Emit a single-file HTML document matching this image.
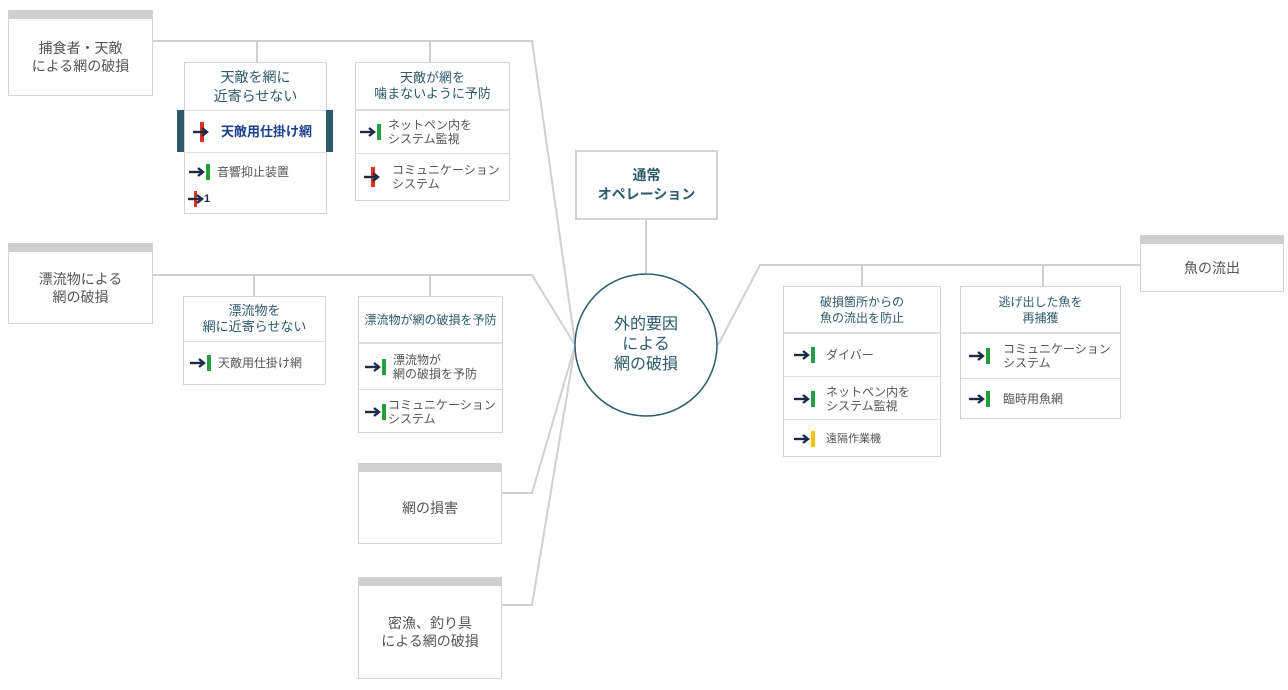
<!DOCTYPE html>
<html><head><meta charset="utf-8"><style>
body{margin:0;width:1288px;height:690px;background:#fff;position:relative;overflow:hidden;font-family:"Liberation Sans","Noto Sans CJK JP",sans-serif;}
.b{position:absolute;box-sizing:border-box;border:1px solid #d4d4d4;background:#fff;}
.g{border-top:9px solid #d0d0d0;display:flex;align-items:center;justify-content:center;text-align:center;color:#555;font-size:14px;line-height:18px;}
.h{position:absolute;left:0;right:0;top:0;display:flex;align-items:center;justify-content:center;text-align:center;color:#2d5a6b;font-size:13px;line-height:16px;border-bottom:2px solid #ddd;}
.r{position:absolute;left:0;right:0;display:flex;align-items:center;color:#555;font-size:12px;line-height:14px;border-top:1px solid #ddd;}
.ic{display:inline-block;position:relative;width:22px;height:16px;margin:0 6px 0 8px;flex:none;}
.ic svg{position:absolute;left:0;top:3px;}
.ic .gr{position:absolute;left:17px;top:0;width:4px;height:16px;background:#22a040;}
.ic .ye{position:absolute;left:17px;top:0;width:4px;height:16px;background:#f3c600;}
.ic .rd{position:absolute;left:7px;top:-2px;width:4px;height:20px;background:#e0301e;}
.c{position:absolute;box-sizing:border-box;}
</style></head><body>
<svg width="0" height="0" style="position:absolute"><defs><g id="ar"><line x1="0" y1="5" x2="13" y2="5" stroke="#1f2a44" stroke-width="2.4"/><polyline points="9,1 14,5 9,9" fill="none" stroke="#1f2a44" stroke-width="2.4"/></g></defs></svg>
<svg width="1288" height="690" style="position:absolute;left:0;top:0" fill="none" stroke="#d0d0d0" stroke-width="2">
<polyline points="152,41 532,41 575,343"/>
<line x1="257" y1="41" x2="257" y2="62"/><line x1="430" y1="41" x2="430" y2="62"/>
<polyline points="152,275 532,275 575,345"/>
<line x1="254" y1="275" x2="254" y2="296"/><line x1="430" y1="275" x2="430" y2="296"/>
<polyline points="502,493 532,493 575,346"/>
<polyline points="502,605 532,605 575,347"/>
<line x1="646" y1="219" x2="646" y2="273"/>
<polyline points="718,345 760,265 1140,265"/>
<line x1="862" y1="265" x2="862" y2="286"/><line x1="1043" y1="265" x2="1043" y2="286"/>
<circle cx="646" cy="345" r="71" fill="#fff" stroke="#2d5a6b" stroke-width="1.5"/>
</svg>

<div class="b g" style="left:8px;top:10px;width:145px;height:86px;">捕食者・天敵<br>による網の破損</div>
<div class="b g" style="left:8px;top:243px;width:145px;height:81px;">漂流物による<br>網の破損</div>
<div class="b g" style="left:358px;top:463px;width:144px;height:81px;">網の損害</div>
<div class="b g" style="left:358px;top:577px;width:144px;height:102px;">密漁、釣り具<br>による網の破損</div>
<div class="b g" style="left:1140px;top:235px;width:144px;height:57px;">魚の流出</div>

<div class="b" style="left:575px;top:150px;width:143px;height:70px;border:2px solid #d4d4d4;display:flex;align-items:center;justify-content:center;text-align:center;color:#2d5a6b;font-weight:bold;font-size:14px;line-height:19px;">通常<br>オペレーション</div>
<div class="c" style="left:575px;top:274px;width:142px;height:142px;display:flex;align-items:center;justify-content:center;text-align:center;color:#2d5a6b;font-size:16px;line-height:20px;">外的要因<br>による<br>網の破損</div>

<!-- box 1 -->
<div class="b" style="left:184px;top:62px;width:143px;height:152px;">
<div class="h" style="height:47px;font-size:14px;line-height:19px;">天敵を網に<br>近寄らせない</div>
<div class="r" style="top:48px;height:41px;border-top:none;background:#fff;color:#1a3f8f;font-weight:bold;font-size:13px;"><span class="ic"><span class="rd"></span><svg width="16" height="10"><use href="#ar"/></svg></span>天敵用仕掛け網</div>
<div class="r" style="top:89px;height:38px;"><span class="ic" style="margin-left:4px"><svg width="16" height="10"><use href="#ar"/></svg><span class="gr"></span></span>音響抑止装置</div>
<div class="r" style="top:124px;height:24px;border:none;font-size:11px;color:#1f2a44;font-weight:bold;"><span class="ic" style="margin:0 -6px 0 3px"><span class="rd" style="left:6px;width:3px;top:0;height:16px"></span><svg width="16" height="10"><use href="#ar"/></svg></span>1</div>
</div>
<div class="c" style="left:177px;top:110px;width:7px;height:42px;background:#2d5a6b;"></div>
<div class="c" style="left:326px;top:110px;width:7px;height:42px;background:#2d5a6b;"></div>

<!-- box 2 -->
<div class="b" style="left:355px;top:62px;width:155px;height:139px;">
<div class="h" style="height:46px;">天敵が網を<br>噛まないように予防</div>
<div class="r" style="top:48px;height:42px;border-top:none;"><span class="ic" style="margin-left:4px"><svg width="16" height="10"><use href="#ar"/></svg><span class="gr"></span></span>ネットペン内を<br>システム監視</div>
<div class="r" style="top:90px;height:46px;"><span class="ic"><span class="rd"></span><svg width="16" height="10"><use href="#ar"/></svg></span>コミュニケーション<br>システム</div>
</div>

<!-- box 3 -->
<div class="b" style="left:183px;top:296px;width:143px;height:89px;">
<div class="h" style="height:44px;border-bottom-width:1px;">漂流物を<br>網に近寄らせない</div>
<div class="r" style="top:45px;height:42px;border-top:none;"><span class="ic" style="margin-left:6px"><svg width="16" height="10"><use href="#ar"/></svg><span class="gr"></span></span>天敵用仕掛け網</div>
</div>

<!-- box 4 -->
<div class="b" style="left:358px;top:296px;width:145px;height:137px;">
<div class="h" style="height:45px;font-size:12px;">漂流物が網の破損を予防</div>
<div class="r" style="top:47px;height:45px;border-top:none;"><span class="ic" style="margin-left:6px"><svg width="16" height="10"><use href="#ar"/></svg><span class="gr"></span></span>漂流物が<br>網の破損を予防</div>
<div class="r" style="top:92px;height:43px;"><span class="ic" style="margin:0 1px 0 6px"><svg width="16" height="10"><use href="#ar"/></svg><span class="gr"></span></span>コミュニケーション<br>システム</div>
</div>

<!-- box 5 -->
<div class="b" style="left:783px;top:286px;width:158px;height:171px;">
<div class="h" style="height:45px;font-size:12px;">破損箇所からの<br>魚の流出を防止</div>
<div class="r" style="top:47px;height:42px;border-top:none;"><span class="ic" style="margin:0 10px 0 10px"><svg width="16" height="10"><use href="#ar"/></svg><span class="gr"></span></span>ダイバー</div>
<div class="r" style="top:89px;height:43px;"><span class="ic" style="margin:0 10px 0 10px"><svg width="16" height="10"><use href="#ar"/></svg><span class="gr"></span></span>ネットペン内を<br>システム監視</div>
<div class="r" style="top:132px;height:37px;font-size:11px;"><span class="ic" style="margin:0 10px 0 10px"><svg width="16" height="10"><use href="#ar"/></svg><span class="ye"></span></span>遠隔作業機</div>
</div>

<!-- box 6 -->
<div class="b" style="left:960px;top:286px;width:161px;height:133px;">
<div class="h" style="height:45px;font-size:12px;">逃げ出した魚を<br>再捕獲</div>
<div class="r" style="top:47px;height:44px;border-top:none;"><span class="ic" style="margin:0 12px 0 8px"><svg width="16" height="10"><use href="#ar"/></svg><span class="gr"></span></span>コミュニケーション<br>システム</div>
<div class="r" style="top:91px;height:40px;"><span class="ic" style="margin:0 12px 0 8px"><svg width="16" height="10"><use href="#ar"/></svg><span class="gr"></span></span>臨時用魚網</div>
</div>
</body></html>
